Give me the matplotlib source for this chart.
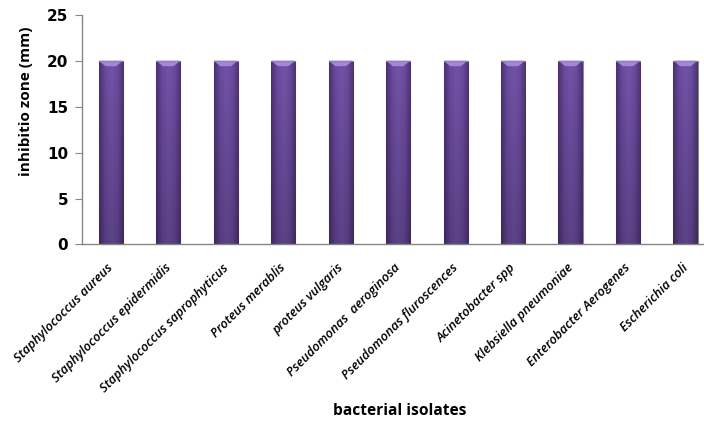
import numpy as np
import matplotlib
matplotlib.use("Agg")
import matplotlib.pyplot as plt
import matplotlib.colors as mcolors
import matplotlib.transforms as mtransforms

# inhibition zone per isolate
isolates = [
    "Staphylococcus aureus",
    "Staphylococcus epidermidis",
    "Staphylococcus saprophyticus",
    "Proteus merablis",
    "proteus vulgaris",
    "Pseudomonas  aeroginosa",
    "Pseudomonas fluroscences",
    "Acinetobacter spp",
    "Klebsiella pneumoniae",
    "Enterobacter Aerogenes",
    "Escherichia coli",
]
zone_mm = [20, 20, 20, 20, 20, 20, 20, 20, 20, 20, 20]
y_ticks = [0, 5, 10, 15, 20, 25]

fig = plt.figure(figsize=(7.04, 4.30), dpi=100)
ax = fig.add_axes([0.1165, 0.4314, 0.898, 0.5344])

x = np.arange(len(isolates))
bar_w = 0.42
bars = ax.bar(x, zone_mm, width=bar_w, color="#5f418f",
              edgecolor="#8a8a8a", linewidth=0.8, zorder=2)

# shaded fill for the bars: lighter middle, darker sides and bottom
side_cmap = mcolors.LinearSegmentedColormap.from_list(
    "side", ["#4a3270", "#6a4a9e", "#7353a8", "#6b4b9f", "#4c3472"])
cols = side_cmap(np.linspace(0, 1, 60))[:, :3]
shade = np.linspace(1.0, 0.8, 200)[:, None, None]
grad = cols[None, :, :] * shade

for rect, v in zip(bars, zone_mm):
    x0 = rect.get_x()
    w = rect.get_width()
    im = ax.imshow(grad, extent=[x0, x0 + w, 0, v], aspect="auto",
                   origin="upper", zorder=2.5, interpolation="bilinear")
    im.set_clip_path(rect)
    # bevel highlight on the top of each bar
    d = 0.6
    ax.fill([x0, x0 + w, x0 + w * 0.72, x0 + w * 0.28],
            [v, v, v - d, v - d], color="#a286d8", zorder=3, lw=0)
    ax.plot([x0, x0 + w], [v, v], color="#8a8a8a", lw=0.8, zorder=3.2)

ax.set_xlim(-0.5, len(isolates) - 0.5)
ax.set_ylim(0, 25)
ax.set_yticks(y_ticks)

for s in ["top", "right"]:
    ax.spines[s].set_visible(False)
for s in ["left", "bottom"]:
    ax.spines[s].set_color("#868686")
    ax.spines[s].set_linewidth(1.0)

ax.tick_params(axis="y", length=5, color="#868686", labelsize=11, pad=5)
ax.tick_params(axis="x", length=0, pad=12)
for lbl in ax.get_yticklabels():
    lbl.set_fontweight("bold")
    lbl.set_family("DejaVu Sans")

ax.set_xticks(x)
ax.set_xticklabels(isolates, rotation=45, ha="right", rotation_mode="anchor",
                   fontsize=9.3, fontstyle="italic", fontweight="semibold",
                   family="Open Sans")
shift = mtransforms.ScaledTranslation(-0.04, 0, fig.dpi_scale_trans)
for lbl in ax.get_xticklabels():
    lbl.set_transform(lbl.get_transform() + shift)

ax.set_ylabel("inhibitio zone (mm)", fontsize=11, fontweight="bold",
              family="Open Sans")
ax.yaxis.set_label_coords(-0.077, 0.622)
fig.text(0.568, 0.045, "bacterial isolates", fontsize=11.2, fontweight="bold",
         family="Open Sans", ha="center", va="center")

fig.savefig("out.png", dpi=100)
